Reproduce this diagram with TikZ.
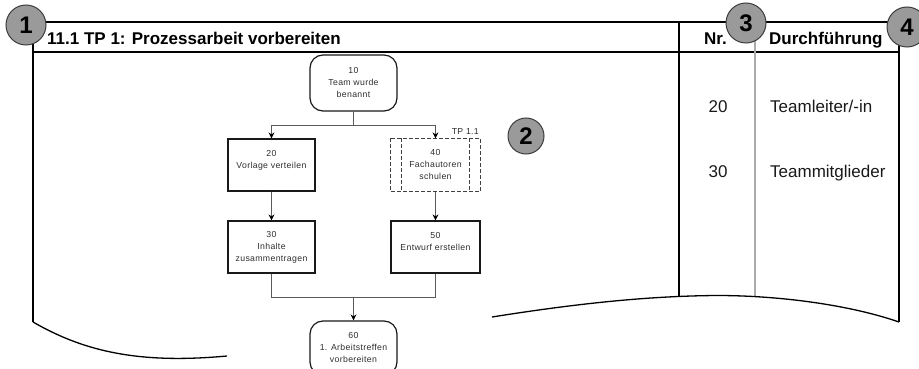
\documentclass[tikz,border=0pt]{standalone}
\usepackage{fontspec}
\setmainfont{Liberation Sans}
\newfontfamily\flowfont[LetterSpace=4]{Liberation Sans}
\usetikzlibrary{arrows.meta}
\definecolor{circfill}{HTML}{9A9A9A}
\definecolor{circdraw}{HTML}{3C3C3C}
\definecolor{flowtext}{HTML}{2E2E2E}
\definecolor{connc}{HTML}{5A5A5A}
\definecolor{graycol}{HTML}{ABABAB}
\begin{document}
\begin{tikzpicture}[x=1pt,y=-1pt,
  frame/.style={line width=1.3pt, draw=black},
  badge/.style={circle, fill=circfill, draw=circdraw, line width=1pt, minimum size=40pt, inner sep=0pt, font=\fontsize{24}{24}\selectfont\bfseries},
  hdr/.style={font=\fontsize{17}{17}\selectfont\bfseries, inner sep=0pt},
  cell/.style={font=\fontsize{17}{17}\selectfont, inner sep=0pt, text=black!90},
  flowbox/.style={draw=black!90, line width=1.2pt, minimum width=87pt, minimum height=52pt, inner sep=0pt, align=center, font={\fontsize{8.7}{12}\flowfont}, text=flowtext},
  term/.style={flowbox, rounded corners=13pt},
  dashbox/.style={draw=black!75, line width=1.3pt, dash pattern=on 4pt off 2pt},
  conn/.style={draw=connc, line width=0.9pt},
  arr/.style={conn, -{Stealth[length=6pt,width=6pt,black]}},
]
\useasboundingbox (0,0) rectangle (919,369);
\clip (0,0) rectangle (919,369);

% frame
\draw[frame] (33,22) -- (899,22);
\draw[frame] (33,52) -- (899,52);
\draw[frame] (33,22) -- (33,322);
\draw[frame] (679,22) -- (679,297);
\draw[frame] (899,22) -- (899,322);
\draw[line width=1.5pt, draw=graycol] (755,22) -- (755,297);
\draw[frame] (33,322) .. controls (85,352) and (140,364) .. (227,356);
\draw[frame] (492,317) .. controls (580,303) and (650,296) .. (717,295.5) .. controls (780,295.5) and (850,305) .. (899,322);

% header texts
\node[hdr, anchor=base west] (title) at (47,45) {11.1 TP 1: Prozessarbeit vorbereiten};
\node[hdr, anchor=base east] (nr) at (727,45) {Nr.};
\node[hdr, anchor=base west] (df) at (769,45) {Durchführung};

% table cells
\node[cell, anchor=base] (c20) at (718,113) {20};
\node[cell, anchor=base west] (r20) at (770,113) {Teamleiter/-in};
\node[cell, anchor=base] (c30) at (718,177) {30};
\node[cell, anchor=base west] (r30) at (770,177) {Teammitglieder};

% flow chart
\node[term, minimum height=56pt] (n10) at (353.5,83) {10\\Team wurde\\benannt};
\node[flowbox] (n20) at (271.5,165) {20\\Vorlage verteilen\\\mbox{}};
\node[flowbox, draw=none, minimum width=89pt] (n40) at (435.5,165) {40\\Fachautoren\\schulen};
\draw[dashbox] (n40.north west) rectangle (n40.south east);
\draw[dashbox] ([xshift=11pt]n40.north west) -- ([xshift=11pt]n40.south west);
\draw[dashbox] ([xshift=-11pt]n40.north east) -- ([xshift=-11pt]n40.south east);
\node[font={\fontsize{8.7}{12}\flowfont}, text=flowtext, inner sep=0pt, anchor=east] (tp) at (479,132) {TP 1.1};
\node[flowbox] (n30) at (271.5,247) {30\\Inhalte\\zusammentragen};
\node[flowbox, minimum width=89pt] (n50) at (435.5,247) {50\\Entwurf erstellen\\\mbox{}};
\node[term, minimum height=54pt] (n60) at (353.5,348) {60\\1. Arbeitstreffen\\vorbereiten};

\coordinate (split) at (353.5,125);
\coordinate (merge) at (353.5,297);
\draw[conn] (n10.south) -- (split);
\draw[arr] (split) -| (n20.north);
\draw[arr] (split) -| (n40.north);
\draw[arr] (n20) -- (n30);
\draw[arr] (n40) -- (n50);
\draw[conn] (n30.south) |- (merge);
\draw[conn] (n50.south) |- (merge);
\draw[arr] (merge) -- (n60.north);

% badges
\node[badge] (b1) at (26,25) {1};
\node[badge, minimum size=36pt] (b2) at (526,136) {2};
\node[badge] (b3) at (746,23) {3};
\node[badge] (b4) at (907,27) {4};
\end{tikzpicture}
\end{document}
